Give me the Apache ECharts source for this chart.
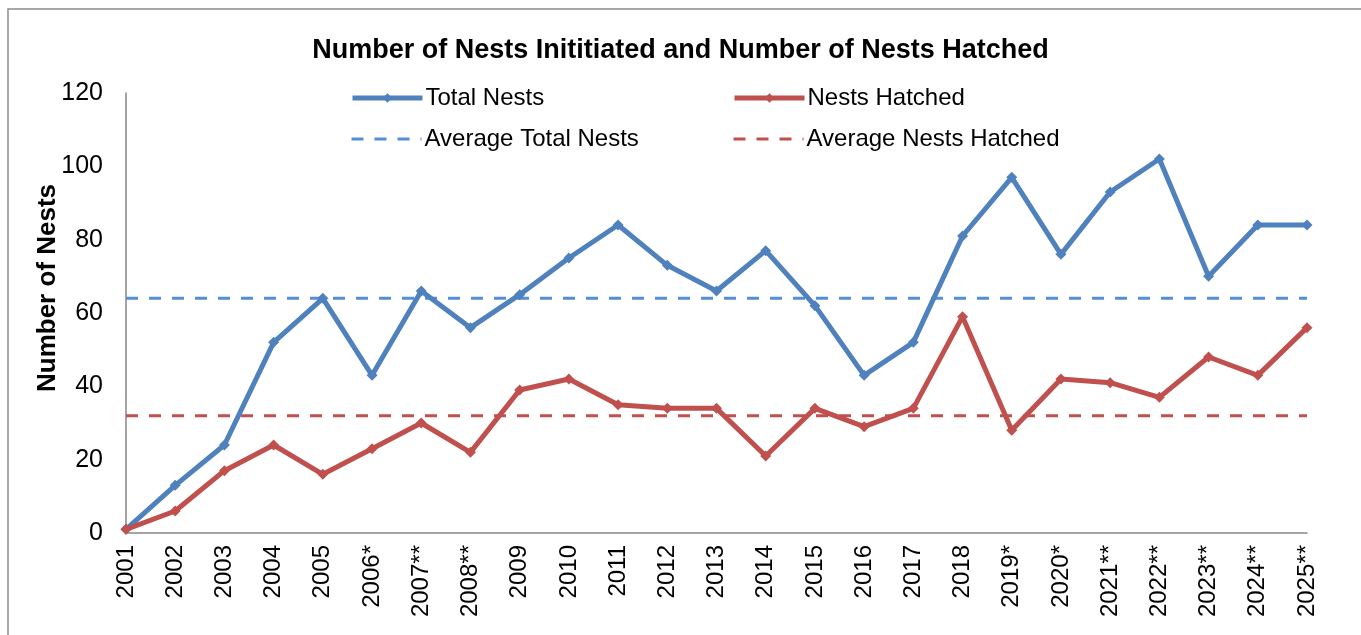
<!DOCTYPE html>
<html>
<head>
<meta charset="utf-8">
<script src="https://cdn.jsdelivr.net/npm/echarts@6/dist/echarts.min.js"></script>
<style>
  html, body { margin: 0; padding: 0; background: #fff; }
  #chart { width: 1361px; height: 635px; }
</style>
</head>
<body>
<div id="chart"></div>
<script>
// Nesting seasons (asterisks mark seasons with footnoted survey conditions)
const years = ['2001', '2002', '2003', '2004', '2005', '2006*', '2007**', '2008**', '2009',
  '2010', '2011', '2012', '2013', '2014', '2015', '2016', '2017', '2018', '2019*', '2020*',
  '2021**', '2022**', '2023**', '2024**', '2025**'];

const totalNests = [1, 13, 24, 52, 64, 43, 66, 56, 65, 75, 84, 73, 66, 77, 62, 43, 52, 81, 97, 76,
  93, 102, 70, 84, 84];

const nestsHatched = [1, 6, 17, 24, 16, 23, 30, 22, 39, 42, 35, 34, 34, 21, 34, 29, 34, 59, 28, 42,
  41, 37, 48, 43, 56];

// Long-run averages drawn as flat reference lines
const avgTotalNests = [64, 64, 64, 64, 64, 64, 64, 64, 64, 64, 64, 64, 64, 64, 64, 64, 64, 64, 64, 64,
  64, 64, 64, 64, 64];
const avgNestsHatched = [32, 32, 32, 32, 32, 32, 32, 32, 32, 32, 32, 32, 32, 32, 32, 32, 32, 32, 32, 32,
  32, 32, 32, 32, 32];

const yTicks = { min: 0, max: 120, interval: 20 };

const BLUE = '#4F81BD';
const BLUE_AVG = '#558ED5';
const RED = '#C0504D';
const FONT = 'Arial, "Liberation Sans", sans-serif';
const DASH = [12, 11];

const chart = echarts.init(document.getElementById('chart'), null, { renderer: 'canvas' });

function legendAt(item, left, top, lineStyle) {
  return {
    data: [item],
    left: left,
    top: top,
    orient: 'horizontal',
    itemWidth: 70,
    itemHeight: 12,
    itemGap: 0,
    selectedMode: false,
    lineStyle: lineStyle,
    textStyle: { fontFamily: FONT, fontSize: 24, color: '#000', padding: [0, 0, 0, -2] }
  };
}

chart.setOption({
  backgroundColor: '#fff',
  animation: false,
  title: {
    text: 'Number of Nests Inititiated and Number of Nests Hatched',
    left: 'center',
    top: 32,
    textStyle: { fontFamily: FONT, fontSize: 27, fontWeight: 'bold', color: '#000' }
  },
  legend: [
    legendAt({ name: 'Total Nests' }, 345, 81, { width: 5 }),
    legendAt({ name: 'Nests Hatched' }, 727, 81, { width: 5 }),
    legendAt({ name: 'Average Total Nests', itemStyle: { opacity: 0 } }, 345, 122,
      { width: 3, type: DASH }),
    legendAt({ name: 'Average Nests Hatched', itemStyle: { opacity: 0 } }, 727, 122,
      { width: 3, type: DASH })
  ],
  graphic: [
    {
      type: 'rect',
      shape: { x: 8, y: 9, width: 1400, height: 700 },
      style: { fill: 'none', stroke: '#8c8c8c', lineWidth: 1.5 },
      z: -1
    },
    {
      type: 'text',
      x: 48,
      y: 288,
      rotation: Math.PI / 2,
      style: {
        text: 'Number of Nests',
        font: 'bold 26px ' + FONT,
        fill: '#000',
        textAlign: 'center',
        textVerticalAlign: 'middle'
      }
    }
  ],
  grid: { left: 126, right: 54, top: 93, bottom: 102, containLabel: false },
  xAxis: {
    type: 'category',
    data: years,
    boundaryGap: false,
    axisLine: { lineStyle: { color: '#868686', width: 1.5 } },
    axisTick: { show: false },
    axisLabel: {
      rotate: 90,
      margin: 12,
      interval: 0,
      fontFamily: FONT,
      fontSize: 24,
      color: '#000'
    },
    splitLine: { show: false }
  },
  yAxis: {
    type: 'value',
    min: yTicks.min,
    max: yTicks.max,
    interval: yTicks.interval,
    axisLine: { show: true, lineStyle: { color: '#868686', width: 1.5 } },
    axisTick: { show: false },
    axisLabel: { margin: 23, fontFamily: FONT, fontSize: 25, color: '#000' },
    splitLine: { show: false }
  },
  series: [
    {
      name: 'Average Total Nests',
      type: 'line',
      data: avgTotalNests,
      symbol: 'none',
      lineStyle: { color: BLUE_AVG, width: 3, type: DASH },
      itemStyle: { color: BLUE_AVG },
      z: 1
    },
    {
      name: 'Average Nests Hatched',
      type: 'line',
      data: avgNestsHatched,
      symbol: 'none',
      lineStyle: { color: RED, width: 3, type: DASH },
      itemStyle: { color: RED },
      z: 1
    },
    {
      name: 'Total Nests',
      type: 'line',
      data: totalNests,
      symbol: 'diamond',
      symbolSize: 11,
      lineStyle: { color: BLUE, width: 5 },
      itemStyle: { color: BLUE },
      z: 3
    },
    {
      name: 'Nests Hatched',
      type: 'line',
      data: nestsHatched,
      symbol: 'diamond',
      symbolSize: 11,
      lineStyle: { color: RED, width: 5 },
      itemStyle: { color: RED },
      z: 3
    }
  ]
});
</script>
</body>
</html>
